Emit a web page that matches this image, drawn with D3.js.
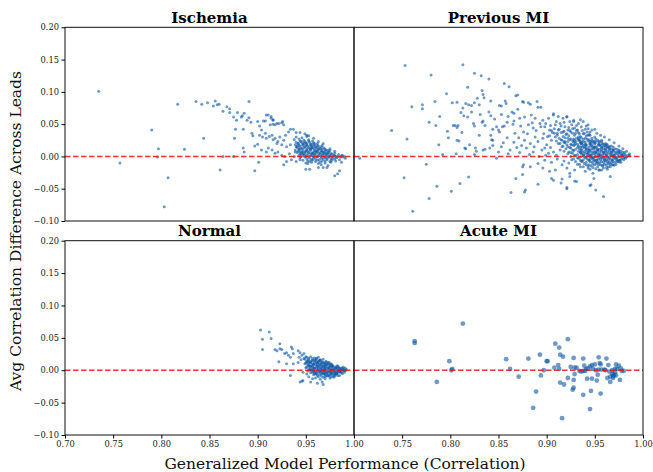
<!DOCTYPE html>
<html>
<head>
<meta charset="utf-8">
<script src="https://cdn.jsdelivr.net/npm/d3@7"></script>
<style>
  body { margin: 0; background: #fff; }
  svg { display: block; }
  text { font-family: "DejaVu Serif", serif; }
</style>
</head>
<body>
<svg id="chart" width="653" height="472"></svg>
<script>
// tick values shared by all four panels
var xTicks = [0.70, 0.75, 0.80, 0.85, 0.90, 0.95, 1.00];
var yTicks = [-0.10, -0.05, 0.00, 0.05, 0.10, 0.15, 0.20];
var titles = ["Ischemia", "Previous MI", "Normal", "Acute MI"];

// [generalized performance, avg correlation difference]
var ischemia = [
  [.735,.101],[.757,-.010],[.790,.041],[.797,.012],[.796,-.001],[.807,-.033],[.803,-.078],[.817,.081],
  [.824,.011],[.836,.085],[.842,.081],[.844,.028],[.848,.083],[.854,.078],[.856,.086],[.858,.080],
  [.860,.081],[.861,-.021],[.864,.070],[.864,.000],[.868,.077],[.871,.074],[.871,.068],[.875,.061],
  [.875,.000],[.876,.028],[.877,.042],[.878,.056],[.879,.068],[.883,.061],[.884,.063],[.885,.042],
  [.885,.013],[.886,.007],[.886,.067],[.889,.056],[.891,.085],[.891,.060],[.893,.053],[.894,.036],
  [.895,.032],[.897,.016],[.897,-.022],[.900,.019],[.901,-.009],
  [.900,.054],[.902,.047],[.904,.041],[.906,.055],[.908,.055],[.911,.064],[.914,.062],[.916,.057],
  [.913,.049],[.916,.050],[.918,.049],[.920,.051],[.922,.051],[.926,.054],[.927,.049],
  [.902,.033],[.905,.030],[.908,.036],[.909,.028],[.912,.031],[.915,.033],[.916,.026],[.918,.028],
  [.920,.020],[.921,.023],[.923,.030],[.925,.018],[.927,.025],[.929,.033],[.932,.038],[.934,.042],
  [.930,.015],[.934,.018],[.904,.010],[.909,.007],[.911,.013],[.915,.010],[.918,.005],[.921,.007],
  [.925,.002],[.928,.000],[.933,.004],[.935,-.005],[.927,-.013],[.930,-.008],
  [.909,.064],[.914,.059],[.916,.056],[.925,.052],[.937,.042],[.944,.037],[.949,.035],[.953,.032],
  [.950,-.020],[.963,-.017],[.973,-.014],[.980,-.030],[.983,-.027],[.985,-.022],[.987,-.009],
  [.990,.000],[.991,-.003],[.988,.002],[.940,.037],[.951,.033],[.958,.028],[.963,.023],[.968,.020],
  [.975,.012],[.980,.008],[.984,.003],[.987,.001],[.944,-.005],[.952,-.011],[.966,-.013],[.972,-.017],
  [.985,-.005],[.954,-.020],[.968,-.017],[.940,-.008],[.938,.000],[.939,.007],[.940,.015],[.942,.020],
  [.940,.030],[.946,.029],[.951,.031],
  [.938,.026],[.943,.027],[.948,.025],[.953,.026],[.957,.024],
  [.940,.022],[.945,.023],[.950,.021],[.954,.022],[.958,.021],[.962,.020],
  [.939,.018],[.943,.017],[.947,.019],[.951,.018],[.955,.017],[.959,.018],[.963,.016],[.967,.017],
  [.941,.014],[.945,.013],[.949,.015],[.953,.014],[.957,.013],[.961,.014],[.965,.012],[.969,.013],
  [.939,.010],[.943,.011],[.947,.009],[.951,.010],[.955,.011],[.959,.009],[.963,.010],[.967,.008],[.971,.010],[.975,.009],
  [.941,.006],[.945,.005],[.949,.007],[.953,.006],[.957,.005],[.961,.007],[.965,.006],[.969,.005],[.973,.006],[.977,.004],
  [.943,.002],[.947,.003],[.951,.001],[.955,.002],[.959,.003],[.963,.001],[.967,.002],[.971,.003],[.975,.001],[.979,.002],[.983,.000],
  [.944,-.002],[.949,-.001],[.954,-.003],[.958,-.002],[.962,-.001],[.966,-.003],[.970,-.002],[.974,-.001],[.978,-.003],[.982,-.002],[.986,-.001],
  [.947,-.006],[.952,-.007],[.957,-.005],[.962,-.006],[.967,-.007],[.972,-.005],[.977,-.006],[.981,-.007],
  [.950,-.010],[.956,-.009],[.963,-.011],[.970,-.010],[.976,-.009],
  [.944,.016],[.952,.016],[.960,.015],[.966,.015],[.946,.012],[.954,.012],[.962,.011],[.970,.011],
  [.944,.008],[.952,.008],[.960,.008],[.968,.007],[.974,.007],[.949,.004],[.957,.004],[.965,.004],
  [.973,.004],[.980,.005],[.950,.000],[.958,.000],[.966,.000],[.974,.000],[.981,.000],[.988,-.001],
  [.948,.020],[.956,.019],
  [.944,.024],[.949,.023],[.953,.024],
  [.942,.020],[.946,.021],[.951,.020],[.955,.019],[.959,.020],
  [.941,.016],[.947,.017],[.950,.016],[.956,.015],[.958,.016],[.962,.017],
  [.943,.012],[.948,.013],[.951,.012],[.956,.013],[.959,.012],[.964,.013],[.967,.012],
  [.942,.008],[.946,.007],[.950,.008],[.955,.009],[.958,.007],[.962,.008],[.966,.009],[.970,.008],[.973,.009],
  [.944,.004],[.947,.005],[.952,.004],[.955,.005],[.960,.004],[.963,.005],[.968,.004],[.971,.005],[.976,.004],
  [.945,.000],[.948,.001],[.953,.000],[.956,.001],[.961,.000],[.964,.001],[.969,.000],[.972,.001],[.977,.000],[.980,.001],
  [.951,-.004],[.956,-.005],[.960,-.004],[.964,-.005],[.968,-.004],[.972,-.003],[.976,-.004],[.980,-.004],
  [.954,-.008],[.960,-.008],[.965,-.009],[.970,-.007],[.975,-.008]
];

var previousMI = [
  [.753,.141],[.706,-.003],[.739,.040],[.755,.027],[.760,.077],[.752,-.033],[.761,-.085],[.771,.080],
  [.771,.074],[.775,-.012],[.778,.053],[.778,-.065],[.780,.126],[.784,.085],[.785,.048],[.786,-.046],
  [.788,.018],[.789,.062],[.792,.003],[.796,.097],[.797,.039],[.798,.029],[.801,-.054],[.802,.083],
  [.807,.084],[.803,.048],[.805,.048],[.808,.048],[.807,.045],[.807,.025],[.809,.024],[.806,.004],
  [.810,-.042],[.811,.068],[.812,.037],[.813,.142],[.813,.075],[.814,.063],[.815,.013],[.816,.012],
  [.816,.082],[.818,.061],[.818,.107],[.819,.080],[.822,.079],[.819,-.032],[.820,.018],[.822,.069],
  [.824,.051],[.825,.047],[.825,.129],[.825,.083],[.826,.013],[.825,.003],[.827,.008],[.828,.090],
  [.830,.033],[.830,.080],[.831,.065],[.832,.125],[.833,.102],[.834,.096],[.835,.091],[.833,.053],
  [.834,.055],[.834,.010],[.836,.048],[.836,.011],[.840,.120],[.840,.069],[.841,.013],[.842,.033],
  [.842,.063],[.842,.086],[.843,.026],[.844,.025],[.844,.017],[.844,.042],[.846,.058],[.848,-.003],
  [.848,.046],[.850,.041],[.851,.038],[.850,.007],[.851,.079],[.853,.078],[.853,.065],[.854,.046],
  [.855,.021],[.856,.113],[.856,.047],[.857,.086],[.858,.082],[.859,.053],[.859,.029],[.860,.062],
  [.861,.108],[.862,.010],[.863,-.056],[.864,.069],[.865,.050],[.866,.055],[.866,.067],[.867,.036],
  [.868,.094],[.870,.095],[.868,-.034],[.869,.014],[.870,.073],[.871,.029],[.872,.059],[.873,.047],
  [.875,.085],[.875,-.016],[.875,-.028],
  [.876,.084],[.881,.083],[.883,.081],[.890,.085],[.891,.076],[.894,.076],
  [.877,.061],[.884,.064],[.888,.059],[.896,.056],[.902,.059],[.907,.066],[.912,.062],[.917,.059],
  [.921,.062],[.924,.054],[.928,.056],[.935,.057],[.938,.054],
  [.876,.038],[.881,.049],[.886,.044],[.893,.051],[.898,.046],[.903,.041],[.909,.049],[.914,.051],
  [.919,.046],[.922,.041],[.926,.049],[.929,.044],[.933,.051],[.936,.046],[.940,.042],[.943,.049],[.947,.041],
  [.877,.025],[.883,.020],[.888,.030],[.891,.023],[.896,.028],[.900,.018],[.905,.025],[.909,.030],
  [.912,.020],[.916,.015],[.919,.023],[.922,.028],[.926,.018],[.929,.025],[.933,.030],[.936,.020],
  [.940,.028],[.943,.033],[.947,.025],[.950,.030],[.954,.023],[.957,.025],[.961,.020],
  [.879,.013],[.886,.007],[.895,.010],[.902,.005],[.907,.007],[.910,.002],[.914,.010],
  [.876,-.013],[.883,-.016],[.891,-.011],[.896,-.018],[.903,-.023],[.909,-.021],[.916,-.013],[.921,-.018],
  [.924,-.026],[.929,-.021],[.935,-.016],[.940,-.023],[.943,-.018],[.948,-.026],[.954,-.021],[.959,-.018],
  [.964,-.016],[.969,-.013],[.974,-.008],
  [.877,-.055],[.891,-.043],[.905,-.034],[.916,-.035],[.921,-.050],[.924,-.031],[.931,-.039],[.945,-.045],
  [.951,-.052],[.949,-.034],[.959,-.062],[.966,-.031],[.955,-.021],[.946,-.044],[.929,-.038],[.921,-.048],
  [.915,-.041],[.907,-.037],[.878,-.052],
  [.907,.064],[.921,.061],[.928,.054],[.943,.043],[.950,.042],
  [.945,.038],[.952,.036],[.956,.033],[.960,.030],[.965,.026],[.970,.021],[.975,.016],[.979,.012],
  [.983,.008],[.986,.004],[.986,.001],
  [.880,.035],[.885,.052],[.889,.040],[.894,.046],[.897,.035],[.899,.051],[.901,.031],[.904,.048],
  [.906,.037],[.908,.043],[.910,.054],[.911,.036],[.913,.042],[.915,.047],[.917,.038],[.918,.053],
  [.920,.034],[.923,.045],[.925,.038],[.927,.043],[.930,.036],[.931,.048],[.932,.041],[.934,.035],
  [.937,.040],[.939,.036],[.941,.047],[.942,.038],[.944,.034],
  [.853,.015],[.860,.004],[.866,.022],[.872,.006],[.874,.017],[.882,.003],[.887,.015],[.892,.000],
  [.898,.013],[.899,.002],[.904,.014],
  [.898,-.006],[.905,-.009],[.911,-.004],[.918,-.007],[.923,-.010],[.926,-.005],[.932,-.012],[.937,-.008],
  [.941,-.013],[.946,-.015],
  [.905,.040],[.912,.041],[.918,.039],[.924,.040],[.931,.040],
  [.908,.036],[.915,.037],[.921,.035],[.927,.036],[.933,.037],[.938,.035],
  [.903,.032],[.911,.033],[.917,.031],[.923,.032],[.929,.033],[.935,.031],[.941,.032],[.945,.033],
  [.913,.028],[.919,.029],[.925,.027],[.931,.028],[.936,.029],[.942,.027],[.947,.028],[.951,.027],
  [.910,.024],[.916,.025],[.922,.023],[.927,.024],[.933,.025],[.938,.023],[.943,.024],[.948,.023],[.953,.025],[.957,.023],
  [.914,.020],[.919,.021],[.925,.019],[.930,.020],[.935,.021],[.940,.019],[.945,.020],[.949,.021],[.954,.019],[.958,.020],[.962,.019],
  [.917,.016],[.922,.015],[.928,.017],[.933,.016],[.937,.015],[.941,.017],[.946,.016],[.950,.015],[.955,.017],[.959,.016],[.963,.015],[.967,.016],
  [.920,.012],[.925,.013],[.930,.011],[.934,.012],[.939,.013],[.943,.011],[.947,.012],[.951,.013],[.955,.011],[.959,.012],[.963,.013],[.967,.011],[.971,.012],
  [.918,.008],[.923,.007],[.928,.009],[.933,.008],[.937,.007],[.941,.009],[.945,.008],[.949,.007],[.953,.009],[.957,.008],[.961,.007],[.965,.009],[.969,.008],[.973,.007],[.977,.008],
  [.922,.004],[.927,.005],[.932,.003],[.936,.004],[.940,.005],[.944,.003],[.948,.004],[.952,.005],[.956,.003],[.960,.004],[.964,.005],[.968,.003],[.972,.004],[.976,.005],[.980,.003],
  [.925,.000],[.930,.001],[.935,-.001],[.939,.000],[.943,.001],[.947,-.001],[.951,.000],[.955,.001],[.959,-.001],[.963,.000],[.967,.001],[.971,-.001],[.975,.000],[.979,.001],[.983,-.001],
  [.928,-.004],[.933,-.003],[.938,-.005],[.942,-.004],[.946,-.003],[.950,-.005],[.954,-.004],[.958,-.003],[.962,-.005],[.966,-.004],[.970,-.003],[.974,-.005],[.978,-.004],[.982,-.003],
  [.930,-.008],[.936,-.007],[.941,-.009],[.945,-.008],[.949,-.007],[.953,-.009],[.957,-.008],[.961,-.007],[.965,-.009],[.969,-.008],[.973,-.007],[.977,-.009],
  [.934,-.012],[.939,-.011],[.944,-.013],[.948,-.012],[.952,-.011],[.956,-.013],[.960,-.012],[.964,-.011],[.968,-.013],[.972,-.012],
  [.938,-.016],[.943,-.015],[.948,-.017],[.953,-.016],[.958,-.015],[.962,-.017],[.966,-.016],
  [.945,-.020],[.951,-.019],[.957,-.021],[.963,-.020],
  [.924,.014],[.932,.014],[.941,.014],[.949,.014],[.957,.014],[.965,.014],
  [.927,.010],[.936,.010],[.944,.010],[.953,.010],[.961,.010],[.969,.010],[.975,.010],
  [.925,.006],[.935,.006],[.943,.006],[.951,.006],[.959,.006],[.967,.006],[.975,.006],[.981,.006],
  [.929,.002],[.938,.002],[.946,.002],[.954,.002],[.962,.002],[.970,.002],[.978,.002],[.985,.002],
  [.932,-.002],[.940,-.002],[.948,-.002],[.956,-.002],[.964,-.002],[.972,-.002],[.980,-.002],
  [.935,-.006],[.944,-.006],[.952,-.006],[.960,-.006],[.968,-.006],[.976,-.006],
  [.921,.018],[.929,.018],[.938,.018],[.947,.018],[.956,.018],[.961,.017],
  [.918,.022],[.928,.022],[.936,.022],[.946,.022],[.951,.022],
  [.915,.026],[.924,.026],[.934,.026],[.944,.026],
  [.932,.019],[.936,.0195],[.941,.0185],[.945,.019],[.950,.0195],[.954,.0185],[.959,.019],[.963,.018],
  [.935,.015],[.939,.0155],[.944,.0145],[.948,.015],[.952,.0155],[.957,.0145],[.961,.015],[.965,.0155],[.969,.0145],
  [.936,.011],[.941,.0115],[.945,.0105],[.949,.011],[.953,.0115],[.957,.0105],[.961,.011],[.965,.0115],[.969,.0105],[.973,.011],
  [.935,.007],[.939,.0075],[.943,.0065],[.947,.007],[.951,.0075],[.955,.0065],[.959,.007],[.963,.0075],[.967,.0065],[.971,.007],[.975,.0075],[.979,.0065],
  [.938,.003],[.942,.0035],[.946,.0025],[.950,.003],[.954,.0035],[.958,.0025],[.962,.003],[.966,.0035],[.970,.0025],[.974,.003],[.978,.0035],[.982,.0025],
  [.941,-.001],[.945,-.0005],[.949,-.0015],[.953,-.001],[.957,-.0005],[.961,-.0015],[.965,-.001],[.969,-.0005],[.973,-.0015],[.977,-.001],[.981,-.0005],
  [.944,-.005],[.948,-.0045],[.952,-.0055],[.956,-.005],[.960,-.0045],[.964,-.0055],[.968,-.005],[.972,-.0045],[.976,-.0055],[.980,-.005],
  [.947,-.009],[.951,-.0085],[.955,-.0095],[.959,-.009],[.963,-.0085],[.967,-.0095],[.971,-.009],[.975,-.0085],
  [.950,-.013],[.954,-.0125],[.958,-.0135],[.962,-.013],[.966,-.0125],[.970,-.0135],
  [.930,.023],[.935,.0235],[.940,.0225],[.945,.023],[.950,.0235],[.955,.0225],
  [.928,.027],[.933,.0275],[.938,.0265]
];

var normal = [
  [.903,.062],[.905,.048],[.905,.032],[.912,.059],[.914,.049],[.918,.032],[.920,.030],[.923,.033],
  [.925,.032],[.923,.041],[.928,.026],[.930,.027],[.932,.023],[.934,.020],[.935,.036],[.936,.033],
  [.937,.026],[.922,.013],[.930,.010],[.937,.010],[.934,-.008],[.942,.030],[.944,.027],[.946,.023],
  [.948,.026],[.943,.020],[.942,.012],[.944,-.018],[.946,-.017],[.947,-.016],[.947,-.003],[.955,-.018],
  [.962,-.020],[.967,-.018],[.968,-.022],
  [.945,.016],[.948,.018],[.950,.021],[.949,.010],[.950,.004],[.951,-.006],[.953,-.010],[.957,-.013],
  [.960,-.012],[.965,-.014],[.970,-.013],[.975,-.012],[.979,-.011],[.985,-.008],[.988,-.005],[.990,-.003],
  [.992,.001],[.991,.003],[.989,.005],
  [.951,.020],[.955,.021],[.959,.019],[.963,.020],
  [.949,.017],[.953,.016],[.957,.018],[.961,.017],[.965,.016],[.968,.017],
  [.951,.014],[.955,.013],[.959,.015],[.963,.014],[.967,.013],[.971,.014],
  [.950,.011],[.954,.012],[.958,.010],[.962,.011],[.966,.012],[.969,.010],[.973,.011],[.976,.010],
  [.952,.008],[.956,.007],[.960,.009],[.964,.008],[.968,.007],[.971,.009],[.975,.008],[.978,.007],
  [.951,.005],[.955,.006],[.959,.004],[.963,.005],[.967,.006],[.970,.004],[.974,.005],[.977,.006],[.981,.004],[.984,.005],
  [.953,.002],[.957,.001],[.961,.003],[.965,.002],[.969,.001],[.972,.003],[.976,.002],[.979,.001],[.983,.003],[.986,.002],[.989,.001],
  [.952,-.001],[.956,.000],[.960,-.002],[.964,-.001],[.968,.000],[.971,-.002],[.975,-.001],[.978,.000],[.982,-.002],[.985,-.001],[.988,.000],[.991,-.001],
  [.955,-.004],[.959,-.005],[.963,-.003],[.967,-.004],[.970,-.005],[.974,-.003],[.977,-.004],[.981,-.005],[.984,-.003],[.987,-.004],
  [.958,-.007],[.962,-.008],[.966,-.006],[.970,-.007],[.973,-.008],[.977,-.006],[.980,-.007],[.983,-.008],
  [.963,-.010],[.968,-.011],[.972,-.009],[.976,-.010],[.980,-.009],
  [.953,.0125],[.961,.0125],[.969,.012],[.974,.0125],[.957,.0095],[.965,.0095],[.972,.0095],
  [.954,.0065],[.962,.0065],[.970,.0065],[.977,.0065],[.982,.0065],
  [.958,.0035],[.966,.0035],[.974,.0035],[.981,.0035],[.987,.0035],
  [.955,.0005],[.963,.0005],[.970,.0005],[.977,.0005],[.984,.0005],[.990,.0005],
  [.958,-.0025],[.966,-.0025],[.973,-.0025],[.980,-.0025],[.986,-.0025],
  [.961,-.0055],[.969,-.0055],[.976,-.0055],[.982,-.0055],
  [.957,.0155],[.965,.0155],[.953,.0185],[.961,.0185],
  [.952,.015],[.956,.0145],[.960,.0155],[.964,.015],
  [.951,.012],[.955,.0115],[.959,.0125],[.963,.012],[.967,.0115],[.971,.0125],
  [.953,.009],[.958,.0085],[.962,.0095],[.966,.009],[.970,.0085],[.974,.0095],[.977,.009],
  [.953,.006],[.957,.0055],[.961,.0065],[.965,.006],[.969,.0055],[.972,.0065],[.976,.006],[.979,.0055],[.983,.0065],
  [.955,.003],[.959,.0025],[.963,.0035],[.967,.003],[.970,.0025],[.974,.0035],[.978,.003],[.981,.0025],[.985,.0035],[.988,.003],
  [.954,.000],[.958,-.0005],[.962,.0005],[.966,.000],[.969,-.0005],[.973,.0005],[.976,.000],[.980,-.0005],[.983,.0005],[.986,.000],[.989,-.0005],
  [.957,-.003],[.961,-.0035],[.965,-.0025],[.969,-.003],[.972,-.0035],[.976,-.0025],[.979,-.003],[.982,-.0035],[.985,-.0025],
  [.960,-.006],[.964,-.0065],[.968,-.0055],[.972,-.006],[.975,-.0065],[.979,-.0055],[.982,-.006],
  [.966,-.009],[.970,-.0095],[.974,-.0085],[.978,-.009]
];

var acuteMI = [
  [.763,.045],[.763,.042],[.813,.072],[.799,.014],[.802,.002],[.801,.000],[.786,-.018],[.858,.017],
  [.862,.002],[.871,-.010],[.881,.018],[.889,-.033],[.886,-.058],[.893,.024],[.894,-.008],[.897,.000],
  [.900,.014],[.901,.014],[.908,.004],[.909,.041],[.913,.035],[.914,.024],[.917,.021],[.922,.048],
  [.912,.008],[.913,.002],[.914,-.019],[.918,-.022],[.922,-.012],[.916,-.074],[.927,-.030],[.928,-.027],
  [.928,.019],[.925,.005],[.929,.004],[.931,.004],[.929,-.006],[.928,-.015],[.934,-.001],[.936,-.002],
  [.938,-.001],[.940,-.001],[.938,.018],[.939,.007],[.941,.002],[.943,.003],[.945,.006],[.947,.008],
  [.948,.002],[.950,.009],[.938,-.038],[.942,-.013],[.946,-.032],[.945,-.060],[.947,-.013],[.951,.000],
  [.953,-.007],[.954,.001],[.955,.011],[.956,.009],[.957,.001],[.954,.020],[.956,-.036],[.952,-.016],
  [.961,.000],[.962,.018],[.964,.008],[.965,-.002],[.966,-.010],[.966,-.018],[.969,-.009],[.968,.000],
  [.971,-.003],[.972,.009],[.973,.002],[.975,.007],[.976,-.015],[.977,.003],[.978,-.001],[.980,-.001],
  [.971,.002],[.969,-.012],[.963,-.012],[.960,.001],[.970,-.007],[.972,-.008],[.968,-.006]
];

var svg = d3.select("#chart");

var cols = [[65, 354], [354, 643]];
var rows = [[221, 27.3], [435, 240.7]];
var panelData = [ischemia, previousMI, normal, acuteMI];
var dotRadius = [1.5, 1.5, 1.5, 2.4];

var fmt = d3.format(".2f");

panelData.forEach(function(data, i) {
    var col = i % 2, row = Math.floor(i / 2);
    var x = d3.scaleLinear().domain([0.70, 1.00]).range(cols[col]);
    var y = d3.scaleLinear().domain([-0.10, 0.20]).range(rows[row]);

    var g = svg.append("g");

    g.append("clipPath").attr("id", "clip" + i)
      .append("rect")
      .attr("x", x.range()[0]).attr("y", y.range()[1])
      .attr("width", x.range()[1] - x.range()[0])
      .attr("height", y.range()[0] - y.range()[1]);

    var plot = g.append("g").attr("clip-path", "url(#clip" + i + ")");

    plot.selectAll("circle")
      .data(data)
      .enter().append("circle")
      .attr("cx", function(d) { return x(d[0]); })
      .attr("cy", function(d) { return y(d[1]); })
      .attr("r", dotRadius[i])
      .attr("fill", "#0b57a5")
      .attr("fill-opacity", 0.6);

    // zero reference line
    plot.append("line")
      .attr("x1", x.range()[0]).attr("x2", x.range()[1])
      .attr("y1", y(0)).attr("y2", y(0))
      .attr("stroke", "#f01010")
      .attr("stroke-opacity", 0.85)
      .attr("stroke-width", 1.5)
      .attr("stroke-dasharray", "5.5,2.5");

    // frame
    g.append("rect")
      .attr("x", x.range()[0]).attr("y", y.range()[1])
      .attr("width", x.range()[1] - x.range()[0])
      .attr("height", y.range()[0] - y.range()[1])
      .attr("fill", "none")
      .attr("stroke", "#111")
      .attr("stroke-width", 1);

    if (col === 0) {
        var ay = g.append("g")
          .attr("transform", "translate(" + x.range()[0] + ",0)")
          .call(d3.axisLeft(y).tickValues(yTicks).tickSize(3.5).tickPadding(2.5).tickFormat(fmt));
        ay.select(".domain").remove();
        ay.selectAll("text").attr("font-family", "DejaVu Serif").attr("font-size", 8.3).attr("fill", "#222");
    }
    if (row === 1) {
        var ticks = col === 0 ? xTicks : xTicks.slice(1);
        var ax = g.append("g")
          .attr("transform", "translate(0," + y.range()[0] + ")")
          .call(d3.axisBottom(x).tickValues(ticks).tickSize(3.5).tickPadding(2.5).tickFormat(fmt));
        ax.select(".domain").remove();
        ax.selectAll("text").attr("font-family", "DejaVu Serif").attr("font-size", 8.3).attr("fill", "#222");
    }

    g.append("text")
      .attr("x", (x.range()[0] + x.range()[1]) / 2)
      .attr("y", y.range()[1] - 4.5)
      .attr("text-anchor", "middle")
      .attr("font-size", 15)
      .attr("font-weight", "bold")
      .text(titles[i]);
});

svg.append("text")
  .attr("transform", "translate(21,231) rotate(-90)")
  .attr("text-anchor", "middle")
  .attr("font-size", 15.5)
  .attr("fill", "#111")
  .text("Avg Correlation Difference Across Leads");

svg.append("text")
  .attr("x", 345)
  .attr("y", 469)
  .attr("text-anchor", "middle")
  .attr("font-size", 15.5)
  .attr("fill", "#111")
  .text("Generalized Model Performance (Correlation)");
</script>
</body>
</html>
